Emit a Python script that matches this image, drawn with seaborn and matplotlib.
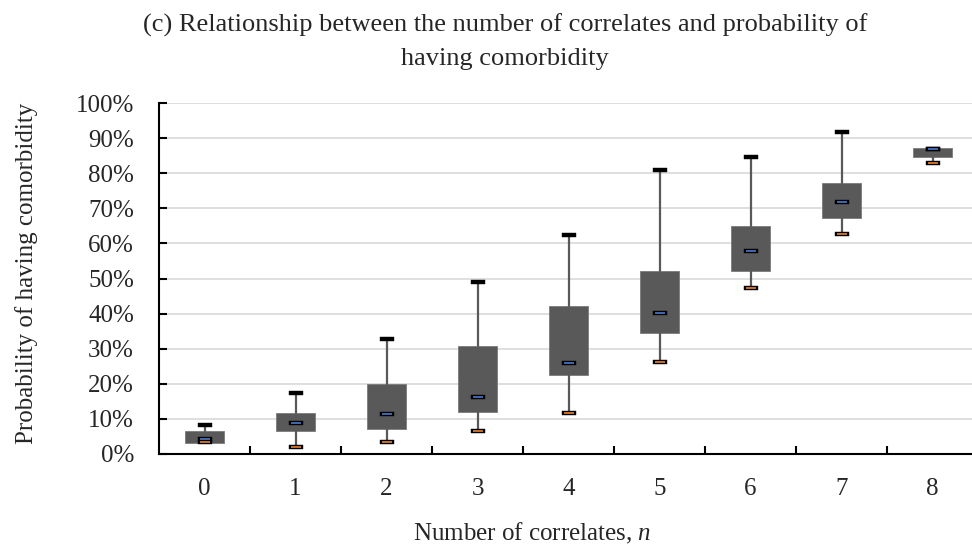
import matplotlib
matplotlib.use("Agg")
import matplotlib.pyplot as plt
import seaborn as sns
import numpy as np
import pandas as pd
from matplotlib.path import Path
from matplotlib.ticker import FuncFormatter, MultipleLocator, FixedLocator

# Number of correlates and the distribution of predicted probability (%)
correlates = [0, 1, 2, 3, 4, 5, 6, 7, 8]
high = [8.3, 17.4, 32.8, 49.0, 62.5, 80.8, 84.5, 91.7, 87.0]
q3 = [6.5, 11.8, 19.9, 30.9, 42.3, 52.1, 65.0, 77.2, 87.2]
median = [4.4, 8.9, 11.5, 16.3, 26.0, 40.2, 57.8, 71.7, 86.9]
q1 = [3.2, 6.6, 7.0, 12.0, 22.4, 34.4, 52.2, 67.3, 84.7]
low = [3.3, 2.1, 3.4, 6.5, 11.8, 26.1, 47.3, 62.6, 82.8]

df = pd.DataFrame({"n": correlates, "high": high, "q3": q3,
                   "median": median, "q1": q1, "low": low})

sns.set_theme(style="white")
plt.rcParams["font.family"] = ["Liberation Serif", "DejaVu Serif"]
plt.rcParams["mathtext.fontset"] = "custom"
plt.rcParams["mathtext.rm"] = "Liberation Serif"
plt.rcParams["mathtext.it"] = "Liberation Serif:italic"

W, H = 972, 547
fig = plt.figure(figsize=(W / 100, H / 100), dpi=100)
ax = fig.add_axes([159 / W, 93 / H, 819 / W, 351 / H])

# Boxes from precomputed statistics
stats = [dict(med=r["median"], q1=r["q1"], q3=r["q3"],
              whislo=r["low"], whishi=r["high"], fliers=[])
         for _, r in df.iterrows()]
ax.bxp(stats, positions=df["n"], widths=0.42, patch_artist=True,
       showcaps=False, showfliers=False,
       boxprops=dict(facecolor="#595959", edgecolor="#7a7a7a", linewidth=0.6),
       whiskerprops=dict(color="#595959", linewidth=1.6),
       medianprops=dict(linewidth=0), zorder=3)

# Wide rectangular marker for high / median / low
rect = Path([(-1, -0.3), (1, -0.3), (1, 0.3), (-1, 0.3), (-1, -0.3)],
            [Path.MOVETO, Path.LINETO, Path.LINETO, Path.LINETO, Path.CLOSEPOLY])

def draw_marker(col, inner):
    sns.scatterplot(data=df, x="n", y=col, ax=ax, marker=rect, s=110,
                    color="black", edgecolor="black", linewidth=0.3,
                    zorder=5, legend=False)
    sns.scatterplot(data=df, x="n", y=col, ax=ax, marker="_", s=45,
                    color=inner, linewidth=1.3, zorder=6, legend=False)

draw_marker("high", "black")
draw_marker("low", "#d9782b")
draw_marker("median", "#4472c4")

ax.set_xlim(-0.5, 8.5)
ax.set_ylim(0, 100)
ax.yaxis.set_major_locator(MultipleLocator(10))
ax.yaxis.set_major_formatter(FuncFormatter(lambda v, _: f"{v:.0f}%"))
ax.set_xticks(correlates)
ax.set_xticklabels([str(c) for c in correlates])
ax.xaxis.set_minor_locator(FixedLocator(np.arange(0.5, 8.0, 1.0)))

ax.grid(axis="y", color="#d9d9d9", linewidth=1.2, zorder=0)
ax.set_axisbelow(True)
for side in ["top", "right"]:
    ax.spines[side].set_visible(False)
for side in ["left", "bottom"]:
    ax.spines[side].set_color("black")
    ax.spines[side].set_linewidth(1.5)
    ax.spines[side].set_zorder(4)

ax.tick_params(axis="y", which="major", direction="in", length=6, width=1.5,
               color="black", labelsize=18, pad=18, left=True)
ax.tick_params(axis="x", which="major", length=0, labelsize=18, pad=17)
ax.tick_params(axis="x", which="minor", direction="in", length=6, width=1.5,
               color="black", bottom=True)
ax.set_xlabel("")
ax.set_ylabel("")

fig.text(505 / W, 1 - 32 / H,
         "(c) Relationship between the number of correlates and probability of",
         ha="center", va="baseline", fontsize=19)
fig.text(505 / W, 1 - 65 / H, "having comorbidity",
         ha="center", va="baseline", fontsize=19)
fig.text(532 / W, 1 - 540 / H, r"Number of correlates, $n$",
         ha="center", va="baseline", fontsize=18)
fig.text(27 / W, 1 - 273 / H, "Probability of having comorbidity",
         ha="center", va="center", rotation=90, fontsize=18)

fig.savefig("out.png", dpi=100)
